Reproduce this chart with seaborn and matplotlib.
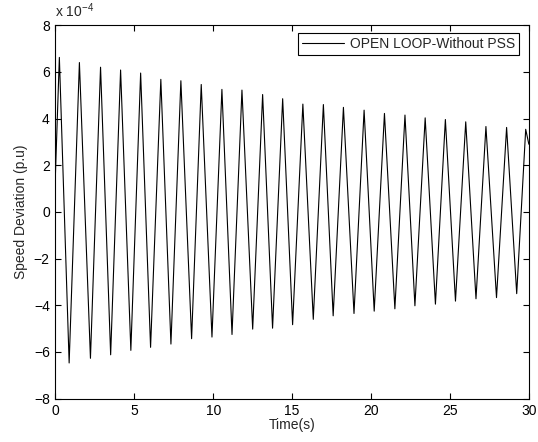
"""
Open-loop speed deviation (no PSS), redrawn from the extrema read off the plot.
"""

import numpy as np
import pandas as pd
import matplotlib
matplotlib.use("Agg")
import matplotlib.pyplot as plt
import seaborn as sns

# speed deviation in units of 1e-4 p.u.
start_time = [0.0]
start_value = [1.6]

peak_times = [0.25, 1.52, 2.86, 4.13, 5.40, 6.68, 7.95, 9.24, 10.55, 11.82,
              13.13, 14.40, 15.68, 16.98, 18.25, 19.56, 20.85, 22.15, 23.43,
              24.71, 26.00, 27.28, 28.59, 29.80]
peak_values = [6.62, 6.40, 6.20, 6.08, 5.95, 5.68, 5.62, 5.46, 5.25, 5.22,
               5.03, 4.85, 4.62, 4.60, 4.48, 4.36, 4.22, 4.15, 4.03, 3.96,
               3.86, 3.66, 3.62, 3.54]

trough_times = [0.87, 2.22, 3.50, 4.78, 6.03, 7.32, 8.63, 9.92, 11.19, 12.50,
                13.76, 15.03, 16.34, 17.60, 18.92, 20.20, 21.51, 22.78, 24.08,
                25.35, 26.65, 27.95, 29.23]
trough_values = [-6.47, -6.27, -6.12, -5.93, -5.80, -5.66, -5.43, -5.36, -5.25,
                 -5.02, -4.98, -4.83, -4.60, -4.45, -4.35, -4.25, -4.15, -4.02,
                 -3.95, -3.82, -3.72, -3.67, -3.50]

end_time = [30.0]
end_value = [2.9]

x_ticks = [0, 5, 10, 15, 20, 25, 30]
y_ticks = [-8, -6, -4, -2, 0, 2, 4, 6, 8]

sns.set_style("ticks")
plt.rcParams["font.family"] = ["Liberation Sans", "DejaVu Sans"]
plt.rcParams["mathtext.fontset"] = "custom"
plt.rcParams["mathtext.rm"] = "Liberation Sans"
plt.rcParams["axes.linewidth"] = 0.8

df = pd.DataFrame({
    "time": start_time + peak_times + trough_times + end_time,
    "dev": start_value + peak_values + trough_values + end_value,
}).sort_values("time")

fig = plt.figure(figsize=(5.38, 4.42), dpi=100)
ax = fig.add_axes([0.103, 0.098, 0.880, 0.845])

sns.lineplot(data=df, x="time", y="dev", ax=ax, color="black", lw=0.8,
             estimator=None, sort=False, label="OPEN LOOP-Without PSS")

ax.set_xlim(0, 30)
ax.set_ylim(-8, 8)
ax.set_xticks(x_ticks)
ax.set_yticks(y_ticks)
ax.tick_params(direction="in", length=4, width=0.8, top=True, right=True,
               labelsize=10, colors="black", pad=4)
for side in ["top", "right", "left", "bottom"]:
    ax.spines[side].set_visible(True)
    ax.spines[side].set_color("black")

ax.set_xlabel("Time(s)", fontsize=10, labelpad=0)
ax.set_ylabel("Speed Deviation (p.u)", fontsize=10, labelpad=4)
ax.text(0.0, 1.015, r"x 10$^{-4}$", transform=ax.transAxes, fontsize=10,
        ha="left", va="bottom")

leg = ax.legend(loc="upper right", bbox_to_anchor=(0.9796, 0.9804),
                borderaxespad=0, fontsize=10, handlelength=3.0,
                handletextpad=0.45, borderpad=0.3, fancybox=False,
                framealpha=1, edgecolor="black")
leg.get_frame().set_linewidth(0.8)

fig.savefig("out.png", dpi=100)
plt.close(fig)
